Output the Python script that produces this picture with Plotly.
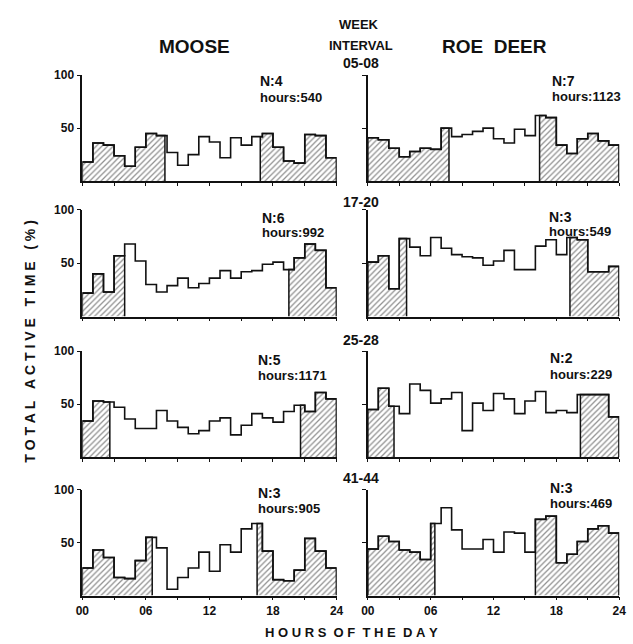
import math
import plotly.graph_objects as go

# ---------------- data (hourly % active, 24 bins: 00-01 ... 23-24) ----------------
hour_edges = list(range(25))
xtick_vals = [0, 3, 6, 9, 12, 15, 18, 21, 24]
xtick_text = ["00", "", "06", "", "12", "", "18", "", "24"]
ytick_vals = [50, 100]
ytick_text = ["50", "100"]

species = ["MOOSE", "ROE\u00a0\u00a0DEER"]
week_intervals = ["05-08", "17-20", "25-28", "41-44"]

moose_05_08 = [18, 36, 34, 24, 14, 32, 45, 43, 27, 15, 25, 42, 37, 22, 41, 34, 42, 45, 32, 19, 17, 44, 43, 22]
roe_05_08 = [41, 39, 31, 23, 28, 31, 30, 50, 42, 44, 47, 50, 40, 36, 49, 43, 62, 60, 34, 26, 40, 45, 38, 34]
moose_17_20 = [22, 40, 23, 57, 68, 52, 30, 23, 29, 36, 27, 31, 36, 43, 36, 42, 43, 49, 51, 44, 55, 68, 62, 27]
roe_17_20 = [51, 57, 26, 73, 65, 57, 74, 64, 58, 56, 55, 48, 52, 62, 44, 44, 66, 72, 58, 74, 72, 42, 42, 47]
moose_25_28 = [34, 53, 52, 47, 36, 27, 27, 44, 34, 28, 22, 25, 34, 37, 21, 30, 41, 37, 33, 43, 49, 43, 61, 55]
roe_25_28 = [45, 65, 48, 41, 69, 63, 51, 55, 61, 25, 51, 44, 60, 55, 41, 53, 62, 42, 44, 42, 59, 59, 59, 38]
moose_41_44 = [26, 43, 36, 17, 16, 33, 55, 45, 6, 17, 26, 41, 23, 48, 41, 63, 68, 42, 15, 14, 24, 54, 42, 26]
roe_41_44 = [44, 56, 51, 43, 41, 34, 68, 83, 62, 44, 44, 53, 41, 60, 59, 41, 72, 75, 31, 39, 51, 63, 66, 59]

# night (hatched) limits: end of morning darkness, start of evening darkness (hours)
moose_night_end = [7.8, 4.0, 2.6, 6.6]
moose_night_start = [16.8, 19.5, 20.6, 16.5]
roe_night_end = [7.75, 3.7, 2.5, 6.4]
roe_night_start = [16.4, 19.3, 20.3, 16.0]

moose_n = ["N:4", "N:6", "N:5", "N:3"]
moose_hours = ["hours:540", "hours:992", "hours:1171", "hours:905"]
roe_n = ["N:7", "N:3", "N:2", "N:3"]
roe_hours = ["hours:1123", "hours:549", "hours:229", "hours:469"]

moose_series = [moose_05_08, moose_17_20, moose_25_28, moose_41_44]
roe_series = [roe_05_08, roe_17_20, roe_25_28, roe_41_44]

# ---------------- layout geometry ----------------
W, H = 633, 644
col_px = [(77, 337), (369, 626)]
row_px = [(69, 176), (205, 313), (348, 455), (488, 595)]  # (top=100, bottom=0)

def px_x(p):
    return p / W

def px_y(p):
    return 1 - p / H

FONT = "Liberation Sans, Arial, sans-serif"
INK = "#111111"

fig = go.Figure()
layout = dict(
    width=W, height=H,
    margin=dict(l=0, r=0, t=0, b=0),
    paper_bgcolor="white", plot_bgcolor="white",
    showlegend=False,
    font=dict(family=FONT, color=INK),
)

pattern = dict(shape="/", size=4, solidity=0.32, fgcolor="#222222", bgcolor="white")
annotations = []

for r in range(4):
    for c in range(2):
        idx = r * 2 + c + 1
        xa = "x" if idx == 1 else f"x{idx}"
        ya = "y" if idx == 1 else f"y{idx}"
        vals = moose_series[r] if c == 0 else roe_series[r]
        n_end = moose_night_end[r] if c == 0 else roe_night_end[r]
        n_start = moose_night_start[r] if c == 0 else roe_night_start[r]

        # morning hatched area
        mx, my = [], []
        k = 0
        while k < n_end:
            mx.append(hour_edges[k]); my.append(vals[k]); k += 1
        last = vals[k - 1]
        mx += [n_end, n_end]; my += [last, 0]
        fig.add_trace(go.Scatter(x=mx, y=my, mode="lines", line=dict(shape="hv", color=INK, width=1.5),
                                 fill="tozeroy", fillpattern=pattern, fillcolor="white",
                                 xaxis=xa, yaxis=ya, hoverinfo="skip"))
        # evening hatched area
        k0 = int(math.floor(n_start))
        ex = [n_start, n_start]; ey = [0, vals[k0]]
        for k in range(k0 + 1, 24):
            ex.append(hour_edges[k]); ey.append(vals[k])
        ex += [24, 24]; ey += [vals[23], 0]
        fig.add_trace(go.Scatter(x=ex, y=ey, mode="lines", line=dict(shape="hv", color=INK, width=1.5),
                                 fill="tozeroy", fillpattern=pattern, fillcolor="white",
                                 xaxis=xa, yaxis=ya, hoverinfo="skip"))
        # outline of whole histogram
        ox = [0] + hour_edges[:24] + [24, 24]
        oy = [0] + vals + [vals[23], 0]
        fig.add_trace(go.Scatter(x=ox, y=oy, mode="lines", line=dict(shape="hv", color=INK, width=1.6),
                                 xaxis=xa, yaxis=ya, hoverinfo="skip"))

        x0, x1 = col_px[c]
        yt, yb = row_px[r]
        layout["xaxis" if idx == 1 else f"xaxis{idx}"] = dict(
            domain=[px_x(x0), px_x(x1)], range=[0, 24], anchor=ya,
            showgrid=False, zeroline=False, showline=True, linecolor=INK, linewidth=1.5,
            ticks="outside", ticklen=3, tickwidth=1, tickcolor=INK,
            tickvals=xtick_vals,
            ticktext=xtick_text if r == 3 else [""] * len(xtick_vals),
            tickfont=dict(family=FONT, size=12, color=INK, weight="bold"),
        )
        layout["yaxis" if idx == 1 else f"yaxis{idx}"] = dict(
            domain=[px_y(yb), px_y(yt)], range=[0, 100], anchor=xa,
            showgrid=False, zeroline=False, showline=True, linecolor=INK, linewidth=1.5,
            ticks="outside", ticklen=4, tickwidth=1, tickcolor=INK,
            tickvals=ytick_vals,
            ticktext=ytick_text if c == 0 else ["", ""],
            tickfont=dict(family=FONT, size=12, color=INK, weight="bold"),
        )

# N / hours labels
n_pos_moose = [(257, 75, 92), (259, 213, 228), (255, 357, 373), (255, 491, 507)]
n_pos_roe = [(555, 75, 90), (552, 212, 227), (553, 355, 372), (553, 486, 502)]
for r in range(4):
    for c in range(2):
        px, pyn, pyh = (n_pos_moose if c == 0 else n_pos_roe)[r]
        ntxt = (moose_n if c == 0 else roe_n)[r]
        htxt = (moose_hours if c == 0 else roe_hours)[r]
        annotations.append(dict(x=px_x(px), y=px_y(pyn), xref="paper", yref="paper", text=ntxt,
                                showarrow=False, xanchor="left", yanchor="middle",
                                font=dict(family=FONT, size=14, color=INK, weight="bold")))
        annotations.append(dict(x=px_x(px), y=px_y(pyh), xref="paper", yref="paper", text=htxt,
                                showarrow=False, xanchor="left", yanchor="middle",
                                font=dict(family=FONT, size=13, color=INK, weight="bold")))

# week interval labels
week_y = [57, 197, 337, 476]
for r in range(4):
    annotations.append(dict(x=px_x(362), y=px_y(week_y[r]), xref="paper", yref="paper",
                            text=week_intervals[r], showarrow=False, xanchor="center", yanchor="middle",
                            font=dict(family=FONT, size=14, color=INK, weight="bold")))
annotations.append(dict(x=px_x(360), y=px_y(18), xref="paper", yref="paper", text="WEEK",
                        showarrow=False, xanchor="center", yanchor="middle",
                        font=dict(family=FONT, size=13, color=INK, weight="bold")))
annotations.append(dict(x=px_x(362), y=px_y(39), xref="paper", yref="paper", text="INTERVAL",
                        showarrow=False, xanchor="center", yanchor="middle",
                        font=dict(family=FONT, size=13, color=INK, weight="bold")))

# species titles
annotations.append(dict(x=px_x(192), y=px_y(40), xref="paper", yref="paper", text=species[0],
                        showarrow=False, xanchor="center", yanchor="middle",
                        font=dict(family=FONT, size=19, color=INK, weight="bold")))
annotations.append(dict(x=px_x(499), y=px_y(40), xref="paper", yref="paper", text=species[1],
                        showarrow=False, xanchor="center", yanchor="middle",
                        font=dict(family=FONT, size=19, color=INK, weight="bold")))

# axis titles (letter-spaced)
def spaced(s, gap):
    words = s.split(" ")
    return gap.join("\u00a0".join(list(w)) for w in words)

annotations.append(dict(x=px_x(352), y=px_y(632), xref="paper", yref="paper",
                        text=spaced("HOURS OF THE DAY", "\u00a0\u00a0"), showarrow=False,
                        xanchor="center", yanchor="middle",
                        font=dict(family=FONT, size=13, color=INK, weight="bold")))
annotations.append(dict(x=px_x(24), y=px_y(338), xref="paper", yref="paper",
                        text=spaced("TOTAL ACTIVE TIME (%)", "\u00a0\u00a0\u00a0"), showarrow=False, textangle=-90,
                        xanchor="center", yanchor="middle",
                        font=dict(family=FONT, size=14, color=INK, weight="bold")))

layout["annotations"] = annotations
fig.update_layout(**layout)
fig.write_html("out.html")
